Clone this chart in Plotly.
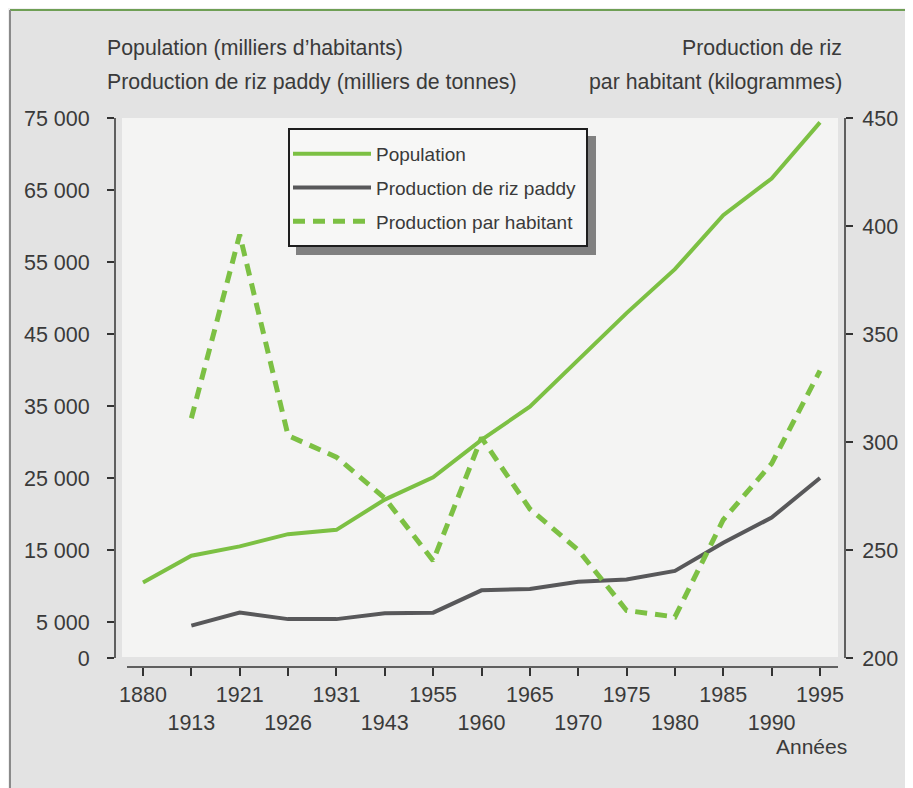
import plotly.graph_objects as go

# ---------------- data ----------------
years = ["1880", "1913", "1921", "1926", "1931", "1943", "1955", "1960",
         "1965", "1970", "1975", "1980", "1985", "1990", "1995"]
population = [10500, 14200, 15500, 17200, 17800, 22000, 25100, 30300,
              34900, 41400, 47900, 54000, 61500, 66600, 74400]
riz_paddy = [None, 4500, 6300, 5400, 5400, 6200, 6300, 9400,
             9600, 10600, 10900, 12100, 16000, 19500, 25000]
par_habitant = [None, 311, 396, 303, 293, 274, 245, 302,
                269, 250, 222, 219, 264, 290, 333]

left_ticks = [0, 5000, 15000, 25000, 35000, 45000, 55000, 65000, 75000]
left_ticktext = ["0", "5 000", "15 000", "25 000", "35 000", "45 000",
                 "55 000", "65 000", "75 000"]
right_ticks = [200, 250, 300, 350, 400, 450]
year_ticktext = [y if i % 2 == 0 else "<br>" + y for i, y in enumerate(years)]

# ---------------- style ----------------
GREEN = "#7cc043"
GREY_LINE = "#58585a"
TEXT = "#3a3a3a"
FONT = "Liberation Sans, Arial, sans-serif"

# page has an 8px body margin: figure is drawn 8px right / down
OFF = 8
W, H = 913 - OFF, 788 - OFF
# plot area in page pixels: x 115..845, y 118..667
PL, PR, PT, PB = 115, 845, 118, 667
ML, MR, MT, MB = PL - OFF, W - (PR - OFF), PT - OFF, H - (PB - OFF)
PW, PH = PR - PL, PB - PT


def px_x(px):
    return (px - PL) / PW


def px_y(py):
    return (PB - py) / PH


fig = go.Figure()
fig.add_trace(go.Scatter(
    x=years, y=population, name="Population", mode="lines",
    line=dict(color=GREEN, width=4), legendgroup="a"))
fig.add_trace(go.Scatter(
    x=years, y=riz_paddy, name="Production de riz paddy", mode="lines",
    line=dict(color=GREY_LINE, width=4), legendgroup="b"))
fig.add_trace(go.Scatter(
    x=years, y=par_habitant, name="Production par habitant", mode="lines",
    line=dict(color=GREEN, width=5, dash="12px,8px"), yaxis="y2",
    legendgroup="c"))

shapes = [
    # outer frame background + borders
    dict(type="rect", xref="paper", yref="paper", x0=px_x(10), x1=px_x(930),
         y0=px_y(800), y1=px_y(10), fillcolor="#e3e3e3", line_width=0,
         layer="below"),
    dict(type="line", xref="paper", yref="paper", x0=px_x(10), x1=px_x(930),
         y0=px_y(10), y1=px_y(10), line=dict(color="#6f9f55", width=2),
         layer="below"),
    dict(type="line", xref="paper", yref="paper", x0=px_x(10), x1=px_x(10),
         y0=px_y(800), y1=px_y(10), line=dict(color="#8a8a8a", width=2),
         layer="below"),
    # light plot panel
    dict(type="rect", xref="paper", yref="paper", x0=px_x(122), x1=px_x(838),
         y0=px_y(657), y1=px_y(118), fillcolor="#f4f4f3", line_width=0,
         layer="below"),
    # legend shadow and frame
    dict(type="rect", xref="paper", yref="paper", x0=px_x(296), x1=px_x(596),
         y0=px_y(255), y1=px_y(136), fillcolor="#808080", line_width=0,
         layer="below"),
    dict(type="rect", xref="paper", yref="paper", x0=px_x(289), x1=px_x(587),
         y0=px_y(246), y1=px_y(129), fillcolor="#f7f7f6",
         line=dict(color="#1e1e1e", width=2), layer="below"),
    # axis lines
    dict(type="line", xref="paper", yref="y", x0=0, x1=0, y0=0, y1=75000,
         line=dict(color="#333333", width=1.5)),
    dict(type="line", xref="paper", yref="y", x0=1, x1=1, y0=0, y1=75000,
         line=dict(color="#333333", width=1.5)),
    dict(type="line", xref="paper", yref="paper", x0=px_x(127), x1=px_x(838),
         y0=0, y1=0, line=dict(color="#333333", width=1.5)),
]

annotations = [
    dict(text="Population (milliers d\u2019habitants)", x=px_x(105), y=px_y(48),
         xanchor="left", yanchor="middle"),
    dict(text="Production de riz paddy (milliers de tonnes)", x=px_x(105),
         y=px_y(82), xanchor="left", yanchor="middle"),
    dict(text="Production de riz", x=px_x(844), y=px_y(48),
         xanchor="right", yanchor="middle"),
    dict(text="par habitant (kilogrammes)", x=px_x(844), y=px_y(82),
         xanchor="right", yanchor="middle"),
    dict(text="Années", x=px_x(849), y=px_y(746),
         xanchor="right", yanchor="middle"),
]
for a in annotations:
    a.update(xref="paper", yref="paper", showarrow=False,
             font=dict(family=FONT, size=21.3, color=TEXT))
annotations[-1]["font"] = dict(family=FONT, size=21, color=TEXT)

tickfont = dict(family=FONT, size=21.5, color=TEXT)

fig.update_layout(
    width=W, height=H,
    margin=dict(l=ML, r=MR, t=MT, b=MB, pad=0),
    paper_bgcolor="#f0f0f0",
    plot_bgcolor="rgba(0,0,0,0)",
    shapes=shapes,
    annotations=annotations,
    showlegend=True,
    legend=dict(
        x=px_x(288), y=px_y(135), xanchor="left", yanchor="top",
        bgcolor="rgba(0,0,0,0)", borderwidth=0,
        font=dict(family=FONT, size=19, color=TEXT),
        traceorder="grouped", tracegroupgap=6, itemwidth=78,
    ),
    xaxis=dict(
        type="category", range=[-0.579, 14.517],
        tickmode="array", tickvals=years, ticktext=year_ticktext,
        tickangle=0,
        ticks="outside", ticklen=8, tickwidth=1.5, tickcolor="#333333",
        showline=False, showgrid=False, zeroline=False,
        tickfont=tickfont, fixedrange=True,
    ),
    yaxis=dict(
        range=[-1250, 75000], tickmode="array", tickvals=left_ticks,
        ticktext=left_ticktext, ticks="outside", ticklen=7, tickwidth=1.5,
        tickcolor="#333333", showline=False, showgrid=False, zeroline=False,
        tickfont=tickfont, ticklabelstandoff=13,
    ),
    yaxis2=dict(
        overlaying="y", side="right", range=[195.833, 450],
        tickmode="array", tickvals=right_ticks, ticks="outside", ticklen=7,
        tickwidth=1.5, tickcolor="#333333", showline=False, showgrid=False,
        zeroline=False, tickfont=tickfont, ticklabelstandoff=5,
    ),
)

fig.write_html("out.html")
